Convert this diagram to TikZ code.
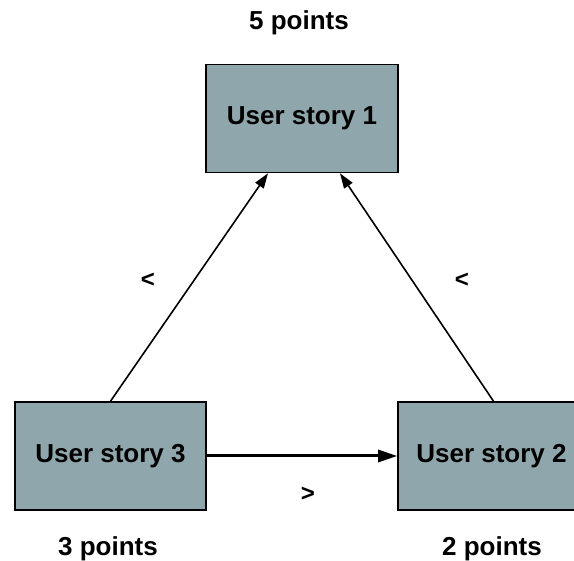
\documentclass[tikz,border=0pt]{standalone}
\usepackage{fontspec}
\setmainfont{Liberation Sans}
\usetikzlibrary{arrows.meta,calc}
\definecolor{storyfill}{RGB}{143,167,172}
\tikzset{
  story/.style={draw=black, line width=1.6pt, fill=storyfill, minimum width=192pt,
    minimum height=108pt, inner sep=0pt, font=\bfseries\fontsize{26}{30}\selectfont},
  pts/.style={font=\bfseries\fontsize{26}{30}\selectfont, inner sep=0pt},
  rel/.style={font=\bfseries\fontsize{24}{28}\selectfont, inner sep=0pt},
  dep/.style={line width=1.6pt, -{Triangle[length=15pt,width=10pt]}},
  depthick/.style={line width=3pt, -{Triangle[length=19pt,width=12pt]}}
}
\begin{document}
\begin{tikzpicture}[x=1pt,y=-1pt]
  \useasboundingbox (0,0) rectangle (574,561);
  \clip (0,0) rectangle (574,561);
  % story boxes
  \node[story] (us1) at (302,118.5) {User story 1};
  \node[story, minimum width=191pt] (us3) at (110.5,456) {User story 3};
  \node[story, minimum width=191pt] (us2) at (493.5,456) {\hspace*{-4pt}User story 2};
  % point estimates
  \node[pts] (p1) at (299,23) {5 points};
  \node[pts] (p3) at (108,549) {3 points};
  \node[pts] (p2) at (492,549) {2 points};
  % arrow end points on the top box
  \coordinate (in1) at ($(us1.south)+(-34,0)$);
  \coordinate (in2) at ($(us1.south)+(38,0)$);
  % dependencies
  \draw[dep] (us3.north) -- (in1);
  \draw[dep] (us2.north) -- (in2);
  \draw[depthick] (us3.east) -- (us2.west);
  % comparison marks
  \node[rel] (c1) at (148,280) {<};
  \node[rel] (c2) at (462,280) {<};
  \node[rel] (c3) at (308,494) {>};
\end{tikzpicture}
\end{document}
